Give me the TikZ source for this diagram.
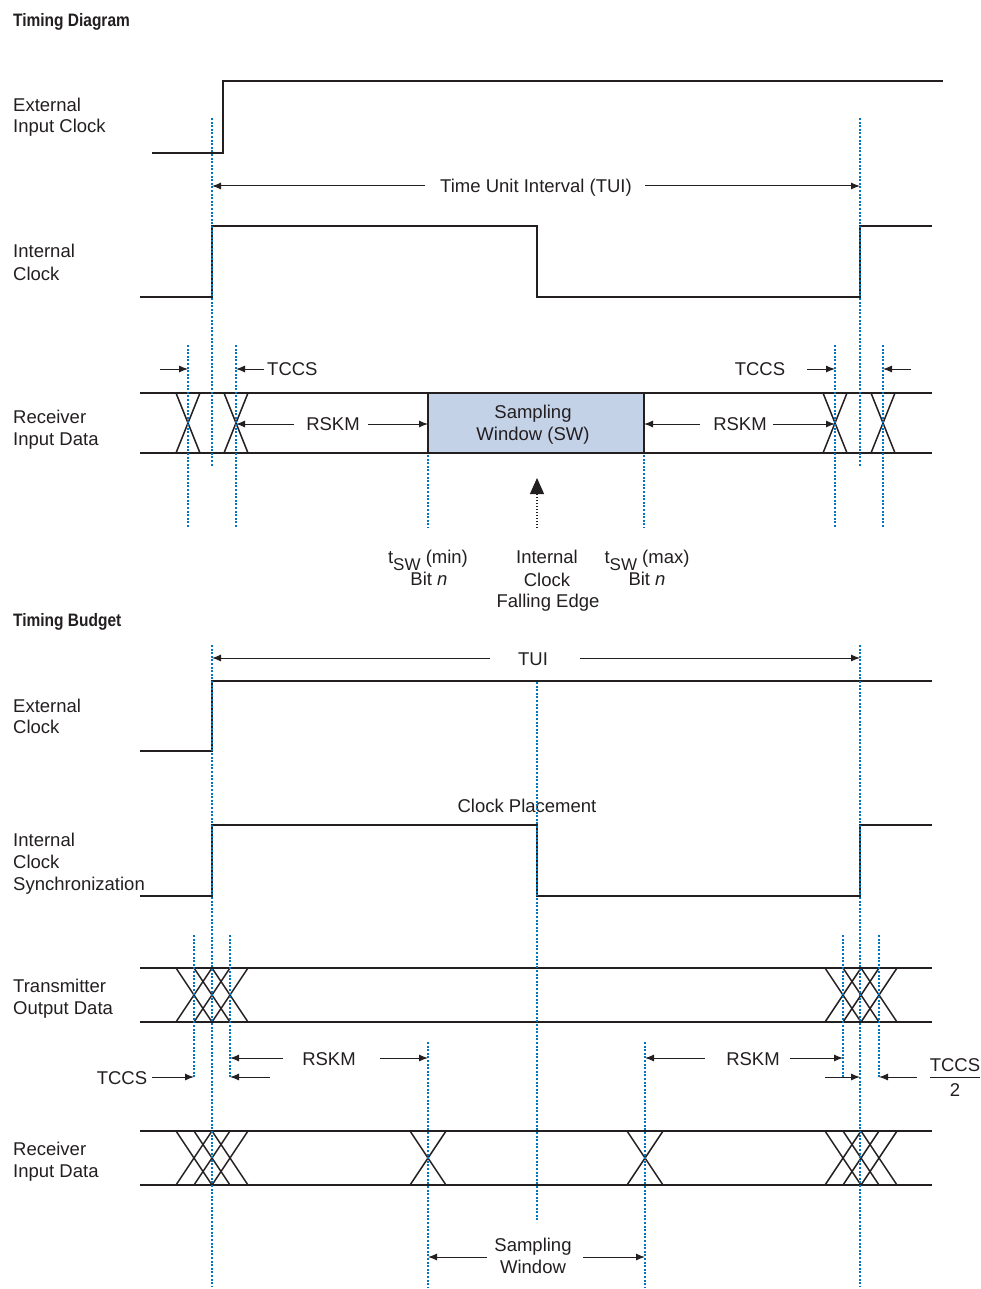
\documentclass[tikz,border=0pt]{standalone}
\usepackage{fontspec}
\setmainfont{Liberation Sans}
\newfontfamily\condbold[FakeStretch=0.86]{Liberation Sans Bold}
\usetikzlibrary{arrows.meta}
\definecolor{ink}{RGB}{35,31,32}
\definecolor{guide}{RGB}{0,118,192}
\definecolor{swfill}{RGB}{196,210,232}
\newcommand\xcr[4]{\draw[sig] (#1-#2,#3) -- (#1+#2,#4) (#1-#2,#4) -- (#1+#2,#3);}
\tikzset{
 sig/.style={draw=ink, line width=1.5pt},
 guideline/.style={draw=guide, line width=1.4pt, dash pattern=on 2pt off 1.6pt},
 arr/.style={draw=ink, line width=1pt, -{Latex[length=9pt,width=7pt]}},
 lbl/.style={anchor=base west, inner sep=0pt, text=ink, font=\fontsize{18.5}{22}\selectfont},
 ctr/.style={anchor=base, inner sep=0pt, text=ink, font=\fontsize{18.5}{22}\selectfont},
 ttl/.style={anchor=base west, inner sep=0pt, text=ink, font=\condbold\fontsize{18}{21}\selectfont},
}
\begin{document}
\begin{tikzpicture}[x=1pt,y=-1pt]
\useasboundingbox (0,0) rectangle (981,1289);
% ================= Timing Diagram =================
\node[ttl] (title1) at (13,27) {Timing Diagram};
% External input clock
\draw[sig] (152,153) -- (223,153) -- (223,81) -- (943,81);
\node[lbl] (eic1) at (13,112) {External};
\node[lbl] (eic2) at (13,133) {Input Clock};
% Internal clock
\draw[sig] (140,297) -- (212,297) -- (212,226) -- (537,226) -- (537,297) -- (860,297) -- (860,226) -- (932,226);
\node[lbl] (ic1) at (13,258) {Internal};
\node[lbl] (ic2) at (13,280) {Clock};
% Receiver input data
\draw[sig] (140,393) -- (932,393) (140,453) -- (932,453);
\xcr{188}{12}{393}{453}
\xcr{236}{12}{393}{453}
\xcr{835}{12}{393}{453}
\xcr{883}{12}{393}{453}
\draw[draw=ink, line width=1.2pt, fill=swfill] (428,393) rectangle (644,453);
\node[ctr] (sw1) at (533,418) {Sampling};
\node[ctr] (sw2) at (533,440) {Window (SW)};
\node[lbl] (rid1) at (13,423) {Receiver};
\node[lbl] (rid2) at (13,445) {Input Data};
% guides
\draw[guideline] (212,118) -- (212,466);
\draw[guideline] (860,118) -- (860,466);
\draw[guideline] (188,345) -- (188,528);
\draw[guideline] (236,345) -- (236,528);
\draw[guideline] (835,345) -- (835,528);
\draw[guideline] (883,345) -- (883,528);
\draw[guideline] (428,455) -- (428,528);
\draw[guideline] (644,455) -- (644,528);
% TUI
\node[ctr] (tui) at (536,193) {Time Unit Interval (TUI)};
\draw[arr] (425,186) -- (212,186);
\draw[arr] (645,186) -- (860,186);
% TCCS
\draw[arr] (160,369) -- (188,369);
\draw[arr] (264,369) -- (236,369);
\node[lbl] (tccs1) at (267,375) {TCCS};
\draw[arr] (807,369) -- (835,369);
\draw[arr] (911,369) -- (883,369);
\node[ctr] (tccs2) at (760,375) {TCCS};
% RSKM
\draw[arr] (294,424) -- (236,424);
\draw[arr] (368,424) -- (428,424);
\node[ctr] (rskm1) at (333,430) {RSKM};
\draw[arr] (700,424) -- (644,424);
\draw[arr] (773,424) -- (835,424);
\node[ctr] (rskm2) at (740,430) {RSKM};
% falling edge arrow
\draw[ink, line width=1.2pt, dash pattern=on 1.5pt off 1.5pt, -{Triangle[length=16pt,width=14pt]}] (537,528) -- (537,478);
% bottom labels
\node[ctr] (tmin1) at (428,563) {t\raisebox{-7pt}{\fontsize{17}{20}\selectfont SW} (min)};
\node[ctr] (tmin2) at (429,585) {Bit \textit{n}};
\node[ctr] (fe1) at (547,563) {Internal};
\node[ctr] (fe2) at (547,586) {Clock};
\node[ctr] (fe3) at (548,607) {Falling Edge};
\node[ctr] (tmax1) at (647,563) {t\raisebox{-7pt}{\fontsize{17}{20}\selectfont SW} (max)};
\node[ctr] (tmax2) at (647,585) {Bit \textit{n}};
% ================= Timing Budget =================
\node[ttl] (title2) at (13,626) {Timing Budget};
\node[ctr] (tui2) at (533,665) {TUI};
\draw[arr] (490,658) -- (212,658);
\draw[arr] (580,658) -- (860,658);
% External clock
\draw[sig] (140,751) -- (212,751) -- (212,681) -- (932,681);
\node[lbl] (ec1) at (13,712) {External};
\node[lbl] (ec2) at (13,733) {Clock};
% Internal clock synchronization
\draw[sig] (140,896) -- (212,896) -- (212,825) -- (537,825) -- (537,896) -- (860,896) -- (860,825) -- (932,825);
\node[lbl] (ics1) at (13,846) {Internal};
\node[lbl] (ics2) at (13,868) {Clock};
\node[lbl] (ics3) at (13,890) {Synchronization};
\node[ctr] (cp) at (527,812) {Clock Placement};
% Transmitter output data
\draw[sig] (140,968) -- (932,968) (140,1022) -- (932,1022);
\foreach \c in {194,212,230,843,861,879} {\xcr{\c}{18}{968}{1022}}
\node[lbl] (tod1) at (13,992) {Transmitter};
\node[lbl] (tod2) at (13,1014) {Output Data};
% Receiver input data
\draw[sig] (140,1131) -- (932,1131) (140,1185) -- (932,1185);
\foreach \c in {194,212,230,428,645,843,861,879} {\xcr{\c}{18}{1131}{1185}}
\node[lbl] (rid3) at (13,1155) {Receiver};
\node[lbl] (rid4) at (13,1177) {Input Data};
% guides
\draw[guideline] (212,645) -- (212,1287);
\draw[guideline] (860,645) -- (860,1287);
\draw[guideline] (537,682) -- (537,1220);
\draw[guideline] (194,935) -- (194,1077);
\draw[guideline] (230,935) -- (230,1077);
\draw[guideline] (843,935) -- (843,1077);
\draw[guideline] (879,935) -- (879,1077);
\draw[guideline] (428,1042) -- (428,1287);
\draw[guideline] (645,1042) -- (645,1287);
% RSKM
\draw[arr] (283,1058) -- (230,1058);
\draw[arr] (380,1058) -- (428,1058);
\node[ctr] (rskm3) at (329,1065) {RSKM};
\draw[arr] (705,1058) -- (645,1058);
\draw[arr] (790,1058) -- (843,1058);
\node[ctr] (rskm4) at (753,1065) {RSKM};
% TCCS
\node[ctr] (tccs3) at (122,1084) {TCCS};
\draw[arr] (152,1077) -- (194,1077);
\draw[arr] (270,1077) -- (230,1077);
\draw[arr] (825,1077) -- (860,1077);
\draw[arr] (917,1077) -- (879,1077);
\node[ctr] (tccs4) at (955,1071) {TCCS};
\draw[ink, line width=1pt] (930,1077) -- (980,1077);
\node[ctr] (two) at (955,1096) {2};
% Sampling window
\draw[arr] (487,1257) -- (428,1257);
\draw[arr] (583,1257) -- (645,1257);
\node[ctr] (swb1) at (533,1251) {Sampling};
\node[ctr] (swb2) at (533,1273) {Window};
\end{tikzpicture}
\end{document}
